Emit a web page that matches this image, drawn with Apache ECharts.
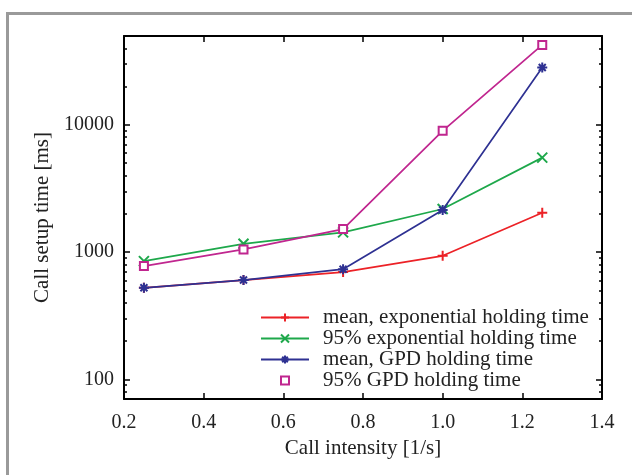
<!DOCTYPE html>
<html><head><meta charset="utf-8">
<script src="https://cdn.jsdelivr.net/npm/echarts@6/dist/echarts.min.js"></script>
<style>html,body{margin:0;padding:0;background:#fff}#c{width:632px;height:475px}</style>
</head><body><div id="c"></div>
<script>
const intensity = [0.25, 0.5, 0.75, 1.0, 1.25];
const meanExp = [524, 603, 696, 935, 2038];
const p95Exp = [849, 1162, 1429, 2183, 5530];
const meanGPD = [524, 603, 734, 2143, 28250];
const p95GPD = [776, 1050, 1517, 8980, 42500];
const seriesNames = ['mean, exponential holding time', '95% exponential holding time', 'mean, GPD holding time', '95% GPD holding time'];
const xTicks = [0.2, 0.4, 0.6, 0.8, 1.0, 1.2, 1.4];
const yMajor = [100, 1000, 10000];
const yMinor = [80, 90, 200, 300, 400, 500, 600, 700, 800, 900, 2000, 3000, 4000, 5000, 6000, 7000, 8000, 9000, 20000, 30000, 40000];

const colors = ['#ec2227', '#1ea84b', '#2e3192', '#c0268f'];
const symbols = [
  'path://M5,0L5,10M0,5L10,5',
  'path://M0,0L10,10M10,0L0,10',
  'path://M5,0L5,10M0,5L10,5M1.5,1.5L8.5,8.5M8.5,1.5L1.5,8.5',
  'emptyRect'
];
const allData = [meanExp, p95Exp, meanGPD, p95GPD];
const font = 'Liberation Serif';

function yAx(pos, ticks, major) {
  return {
    type: 'log', logBase: 10, min: 70, max: 50000, position: pos,
    axisLine: { show: major, lineStyle: { color: '#000', width: 2 } },
    axisTick: { show: true, inside: true, length: major ? 6 : 3, customValues: ticks, lineStyle: { color: '#000', width: 1.5 } },
    axisLabel: { show: major && pos === 'left', customValues: yMajor, formatter: v => String(Math.round(v)), fontFamily: font, fontSize: 20, color: '#222', margin: 10 },
    splitLine: { show: false },
    name: (major && pos === 'left') ? 'Call setup time [ms]' : '',
    nameLocation: 'middle', nameGap: 63,
    nameTextStyle: { fontFamily: font, fontSize: 21, color: '#222' }
  };
}
function xAx(pos) {
  return {
    type: 'value', min: 0.2, max: 1.4, interval: 0.2, position: pos,
    axisLine: { show: true, lineStyle: { color: '#000', width: 2 } },
    axisTick: { show: true, inside: true, length: 6, customValues: xTicks, lineStyle: { color: '#000', width: 1.5 } },
    axisLabel: { show: pos === 'bottom', customValues: xTicks, formatter: v => v.toFixed(1), fontFamily: font, fontSize: 20, color: '#222', margin: 14 },
    splitLine: { show: false },
    name: pos === 'bottom' ? 'Call intensity [1/s]' : '',
    nameLocation: 'middle', nameGap: 39,
    nameTextStyle: { fontFamily: font, fontSize: 21, color: '#222' }
  };
}

const series = seriesNames.map((n, i) => ({
  name: n, type: 'line', xAxisIndex: 0, yAxisIndex: 0,
  data: intensity.map((x, k) => [x, allData[i][k]]),
  symbol: symbols[i], symbolSize: i === 3 ? 8 : 10, showAllSymbol: true,
  lineStyle: { color: colors[i], width: 1.7 },
  itemStyle: { color: colors[i], borderColor: colors[i], borderWidth: 2 },
  emphasis: { disabled: true },
  z: 3 + i
}));

const chart = echarts.init(document.getElementById('c'), null, { renderer: 'canvas' });
chart.setOption({
  animation: false,
  backgroundColor: '#fff',
  grid: { left: 124, right: 30, top: 36, bottom: 76, containLabel: false },
  xAxis: [xAx('bottom'), xAx('top')],
  yAxis: [yAx('left', yMajor, true), yAx('left', yMinor, false), yAx('right', yMajor, true), yAx('right', yMinor, false)],
  legend: {
    orient: 'vertical', left: 255, top: 302,
    itemWidth: 48, itemHeight: 10, itemGap: 0,
    itemStyle: { borderWidth: 2 },
    lineStyle: { width: 2 },
    textStyle: { fontFamily: font, fontSize: 21, lineHeight: 20.3, color: '#222', padding: [0, 0, 0, 9] },
    data: seriesNames.map((n, i) => i === 3 ? { name: n, lineStyle: { width: 0, opacity: 0 } } : { name: n }),
    selectedMode: false
  },
  graphic: [{
    type: 'rect', left: 5, top: 11, silent: true,
    shape: { x: 0, y: 0, width: 700, height: 600 },
    style: { fill: null, stroke: '#9a9a9a', lineWidth: 3 }
  }],
  series: series
});
</script></body></html>
